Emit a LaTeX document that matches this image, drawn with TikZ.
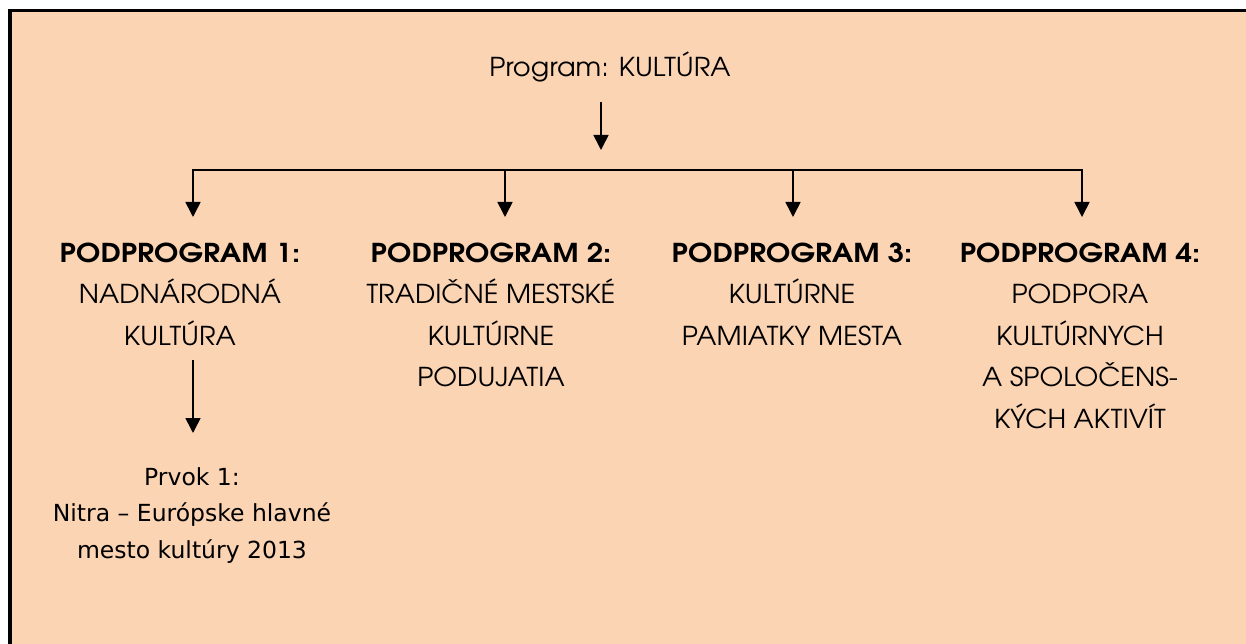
\documentclass[tikz,border=0pt]{standalone}
\usepackage{fontspec}
\setmainfont{DejaVu Sans}
\newfontfamily\gothic{texgyreadventor}[Extension=.otf, UprightFont=*-regular, BoldFont=*-bold,
    UprightFeatures={FakeStretch=1.05}, BoldFeatures={FakeStretch=1.12}]
\usetikzlibrary{arrows.meta}
\definecolor{peach}{HTML}{FBD4B4}
\tikzset{
  head/.style={font={\gothic\fontsize{26}{41.5}\selectfont}, align=center, anchor=base, inner sep=0pt},
  elem/.style={font={\fontsize{23.5}{36.5}\selectfont}, align=center, anchor=base, inner sep=0pt},
  arr/.style={-{Triangle[width=15pt,length=15pt]}, line width=1.6pt},
}
\begin{document}
\begin{tikzpicture}[x=1pt, y=-1pt]
    \useasboundingbox (0,0) rectangle (1246,644);
    \fill[peach] (10,10.5) rectangle (1246,644);
    \draw[line width=3.5pt] (10,644) -- (10,10.5) -- (1246,10.5);

    % multi-line nodes: base = last line
    \node[head] (prog) at (610,77) {Program: KULTÚRA};
    \node[head] (p1) at (180,345) {\textbf{PODPROGRAM 1:}\\NADNÁRODNÁ\\KULTÚRA};
    \node[head] (p2) at (491,386.5) {\textbf{PODPROGRAM 2:}\\TRADIČNÉ MESTSKÉ\\KULTÚRNE\\PODUJATIA};
    \node[head] (p3) at (792,345) {\textbf{PODPROGRAM 3:}\\KULTÚRNE\\PAMIATKY MESTA};
    \node[head] (p4) at (1080,428) {\textbf{PODPROGRAM 4:}\\PODPORA\\KULTÚRNYCH\\A SPOLOČENS-\\KÝCH AKTIVÍT};
    \node[elem] (e1) at (192,558) {Prvok 1:\\Nitra – Európske hlavné\\mesto kultúry 2013};

    \coordinate (top) at (601,102);
    \coordinate (topend) at (601,150);
    \draw[arr] (top) -- (topend);

    \foreach \x [count=\i] in {193,505,793,1082} {
        \coordinate (b\i) at (\x,170);
        \coordinate (t\i) at (\x,217);
    }
    \draw[line width=1.6pt, line cap=rect] (b1) -- (b4);
    \foreach \i in {1,...,4}
        \draw[arr] (b\i) -- (t\i);

    \coordinate (k1) at (193,360);
    \coordinate (k2) at (193,433);
    \draw[arr] (k1) -- (k2);
\end{tikzpicture}
\end{document}
